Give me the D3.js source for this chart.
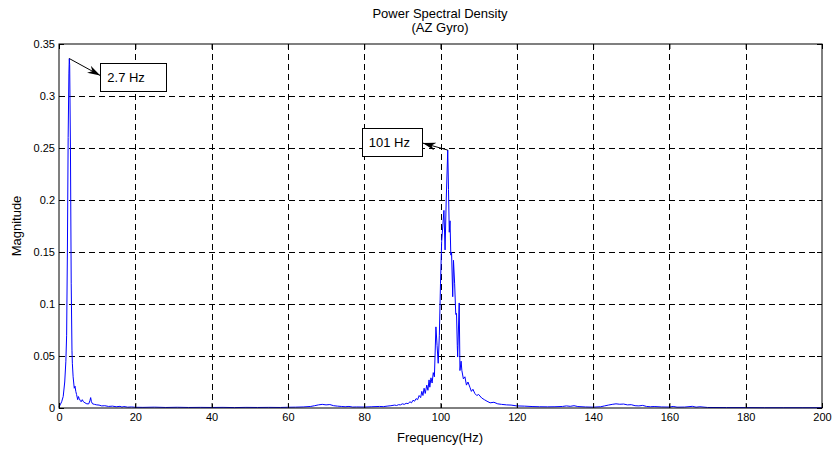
<!DOCTYPE html>
<html>
<head>
<meta charset="utf-8">
<script src="https://cdn.jsdelivr.net/npm/d3@7"></script>
<style>
  body { margin: 0; background: #fff; }
  svg text { font-family: "Liberation Sans", Arial, sans-serif; fill: #000; }
</style>
</head>
<body>
<div id="chart"></div>
<script>
// frequency (Hz) and magnitude
var freqHz = [0, 0.3, 0.7, 1.1, 1.5, 1.8, 2.0, 2.2, 2.4, 2.6, 2.7, 2.8, 3.0, 3.2, 3.4, 3.5, 3.7, 4.0, 4.2, 4.4,
  4.6, 4.9, 5.1, 5.3, 5.6, 5.8, 6.1, 6.4, 6.8, 7.3, 7.8, 8.1, 8.3, 8.5, 8.8, 9.3, 9.9, 10.5, 11.2, 12,
  13, 14, 15, 16, 16.5, 17, 18, 19, 20, 22, 25, 28, 31, 34, 37, 40, 43, 46, 49, 52,
  55, 58, 60, 62, 64, 66, 67, 68, 69, 70, 71, 72, 73, 74, 75, 76, 77, 78, 80, 82,
  84, 85, 86, 87, 88, 88.5, 89, 89.5, 90, 90.5, 91, 91.5, 92, 92.4, 92.8, 93.2, 93.6, 94, 94.4, 94.8,
  95.1, 95.4, 95.7, 96, 96.4, 96.7, 97, 97.2, 97.5, 97.8, 98.1, 98.4, 98.8, 99.1, 99.4, 99.7, 100.0, 100.3, 100.6, 100.9,
  101.2, 101.5, 101.9, 102.1, 102.3, 102.5, 102.7, 102.9, 103.2, 103.4, 103.7, 104.0, 104.2, 104.4, 104.5, 104.9, 105.1, 105.4, 105.6, 106,
  106.4, 106.8, 107.2, 107.7, 108.1, 108.5, 109, 109.5, 110, 110.8, 111.5, 112.2, 113, 114, 115, 116, 117.3, 118.5, 120, 122,
  124, 126, 128, 130, 132, 133, 134, 135, 136, 138, 140, 142, 143, 144, 145, 146, 147, 148, 149, 150,
  151, 152, 153, 154, 155, 156, 158, 160, 161, 162, 164, 166, 167, 168, 170, 175, 180, 185, 190, 195, 200];
var magnitude = [0.001, 0.003, 0.006, 0.011, 0.025, 0.045, 0.07, 0.15, 0.26, 0.322, 0.336, 0.33, 0.25, 0.12, 0.055, 0.043, 0.03, 0.019, 0.021, 0.016,
  0.013, 0.008, 0.011, 0.009, 0.007, 0.006, 0.008, 0.006, 0.005, 0.004, 0.004, 0.007, 0.010, 0.006, 0.004, 0.0035, 0.003, 0.0028, 0.002, 0.0022,
  0.0015, 0.0018, 0.0012, 0.0016, 0.0009, 0.0014, 0.0008, 0.001, 0.0007, 0.0006, 0.0008, 0.0005, 0.0007, 0.0005, 0.0006, 0.0005, 0.0006, 0.0004, 0.0006, 0.0005,
  0.0006, 0.0005, 0.0007, 0.0008, 0.001, 0.0015, 0.0022, 0.003, 0.0035, 0.003, 0.0033, 0.0022, 0.0018, 0.0015, 0.0012, 0.0015, 0.0009, 0.001, 0.0009, 0.0012,
  0.0015, 0.0013, 0.0018, 0.0022, 0.0028, 0.0024, 0.0032, 0.003, 0.004, 0.0035, 0.0045, 0.0042, 0.006, 0.005, 0.0075, 0.0065, 0.009, 0.008, 0.012, 0.01,
  0.016, 0.012, 0.019, 0.014, 0.022, 0.017, 0.027, 0.02, 0.029, 0.024, 0.034, 0.03, 0.078, 0.06, 0.043, 0.07, 0.12, 0.16, 0.175, 0.19,
  0.152, 0.2, 0.248, 0.21, 0.169, 0.18, 0.147, 0.15, 0.107, 0.142, 0.12, 0.09, 0.091, 0.06, 0.049, 0.101, 0.036, 0.045, 0.036, 0.028,
  0.030, 0.022, 0.025, 0.02, 0.016, 0.018, 0.014, 0.012, 0.013, 0.0096, 0.008, 0.0065, 0.005, 0.0055, 0.004, 0.0035, 0.003, 0.0028, 0.002, 0.0018,
  0.0014, 0.0012, 0.0011, 0.0012, 0.0015, 0.002, 0.0016, 0.0022, 0.0014, 0.001, 0.0008, 0.0012, 0.002, 0.0028, 0.0035, 0.004, 0.0036, 0.0038, 0.003, 0.0032,
  0.0022, 0.002, 0.0025, 0.0015, 0.0012, 0.0014, 0.001, 0.0009, 0.0015, 0.0008, 0.0009, 0.0016, 0.0008, 0.0012, 0.0005, 0.0004, 0.0004, 0.0003, 0.0003, 0.0003, 0.0003];

var xTicks = [0, 20, 40, 60, 80, 100, 120, 140, 160, 180, 200];
var yTicks = [0, 0.05, 0.1, 0.15, 0.2, 0.25, 0.3, 0.35];
var yTickLabels = ["0", "0.05", "0.1", "0.15", "0.2", "0.25", "0.3", "0.35"];

// peak annotations: label, index into the data
var peakLabels = ["2.7 Hz", "101 Hz"];
var peakIndex = [10, 122];

var W = 834, H = 451;
var margin = {left: 59, right: 12, top: 44, bottom: 43};

var svg = d3.select("#chart").append("svg")
    .attr("width", W)
    .attr("height", H);

var x = d3.scaleLinear().domain([0, 200]).range([margin.left, W - margin.right]);
var y = d3.scaleLinear().domain([0, 0.35]).range([H - margin.bottom, margin.top]);

var x0 = x.range()[0], x1 = x.range()[1], y0 = y.range()[0], y1 = y.range()[1];

// grid
var grid = svg.append("g")
    .attr("stroke", "#000")
    .attr("stroke-width", 1)
    .attr("stroke-dasharray", "6,4")
    .attr("shape-rendering", "crispEdges");
grid.selectAll(".gx").data(xTicks.slice(1, -1)).enter().append("line")
    .attr("x1", function(d) { return Math.round(x(d)) + 0.5; })
    .attr("x2", function(d) { return Math.round(x(d)) + 0.5; })
    .attr("y1", y1).attr("y2", y0);
grid.selectAll(".gy").data(yTicks.slice(1, -1)).enter().append("line")
    .attr("y1", function(d) { return Math.round(y(d)) + 0.5; })
    .attr("y2", function(d) { return Math.round(y(d)) + 0.5; })
    .attr("x1", x0).attr("x2", x1);

// spectrum
var line = d3.line()
    .x(function(d, i) { return x(freqHz[i]); })
    .y(function(d) { return y(d); });
svg.append("path")
    .datum(magnitude)
    .attr("fill", "none")
    .attr("stroke", "#0000ff")
    .attr("stroke-width", 1)
    .attr("d", line);

// axes (ticks inside, on all four sides)
var fmtY = function(d, i) { return yTickLabels[i]; };
svg.append("g")
    .attr("transform", "translate(0," + y0 + ")")
    .call(d3.axisBottom(x).tickValues(xTicks).tickSize(-5).tickPadding(5))
    .call(function(g) { g.select(".domain").remove(); });
svg.append("g")
    .attr("transform", "translate(" + x0 + ",0)")
    .call(d3.axisLeft(y).tickValues(yTicks).tickFormat(fmtY).tickSize(-5).tickPadding(4))
    .call(function(g) { g.select(".domain").remove(); });
svg.append("g")
    .attr("transform", "translate(0," + y1 + ")")
    .call(d3.axisTop(x).tickValues(xTicks).tickSize(-5).tickFormat(""))
    .call(function(g) { g.select(".domain").remove(); });
svg.append("g")
    .attr("transform", "translate(" + x1 + ",0)")
    .call(d3.axisRight(y).tickValues(yTicks).tickSize(-5).tickFormat(""))
    .call(function(g) { g.select(".domain").remove(); });

svg.selectAll(".tick text")
    .style("font-size", "11px")
    .style("font-family", "'Liberation Sans', Arial, sans-serif");
svg.selectAll(".tick line").attr("stroke", "#000");

// box
svg.append("rect")
    .attr("x", x0).attr("y", y1)
    .attr("width", x1 - x0).attr("height", y0 - y1)
    .attr("fill", "none")
    .attr("stroke", "#000")
    .attr("stroke-width", 1);

// titles
svg.append("text").attr("x", 440).attr("y", 18)
    .attr("text-anchor", "middle").style("font-size", "13px")
    .text("Power Spectral Density");
svg.append("text").attr("x", 440).attr("y", 32)
    .attr("text-anchor", "middle").style("font-size", "13px")
    .text("(AZ Gyro)");
svg.append("text").attr("x", 440).attr("y", 442)
    .attr("text-anchor", "middle").style("font-size", "13px")
    .text("Frequency(Hz)");
svg.append("text")
    .attr("transform", "translate(21," + ((y0 + y1) / 2) + ") rotate(-90)")
    .attr("text-anchor", "middle").style("font-size", "13px")
    .text("Magnitude");

// annotations
svg.append("defs").append("marker")
    .attr("id", "arrow")
    .attr("viewBox", "0 0 13 8")
    .attr("refX", 13).attr("refY", 4)
    .attr("markerWidth", 13).attr("markerHeight", 8)
    .attr("markerUnits", "userSpaceOnUse")
    .attr("orient", "auto")
    .append("path")
    .attr("d", "M0,0 L13,4 L0,8 L4,4 Z")
    .attr("fill", "#000");

// box offsets from the peak point: [dx, dy, w, h, arrow tip dx, dy]
var boxes = [[31, 4, 66, 28, 31, 17], [-86, -22, 60, 28, -25, -7]];

peakIndex.forEach(function(k, i) {
    var px = x(freqHz[k]), py = y(magnitude[k]);
    var b = boxes[i];
    var g = svg.append("g");
    g.append("line")
        .attr("x1", px).attr("y1", py)
        .attr("x2", px + b[4]).attr("y2", py + b[5])
        .attr("stroke", "#000").attr("stroke-width", 1)
        .attr("marker-end", "url(#arrow)");
    g.append("rect")
        .attr("x", Math.round(px + b[0]) + 0.5).attr("y", Math.round(py + b[1]) + 0.5)
        .attr("width", b[2]).attr("height", b[3])
        .attr("fill", "#fff").attr("stroke", "#000");
    g.append("text")
        .attr("x", px + b[0] + 7).attr("y", py + b[1] + 19)
        .style("font-size", "13px")
        .text(peakLabels[i]);
});
</script>
</body>
</html>
